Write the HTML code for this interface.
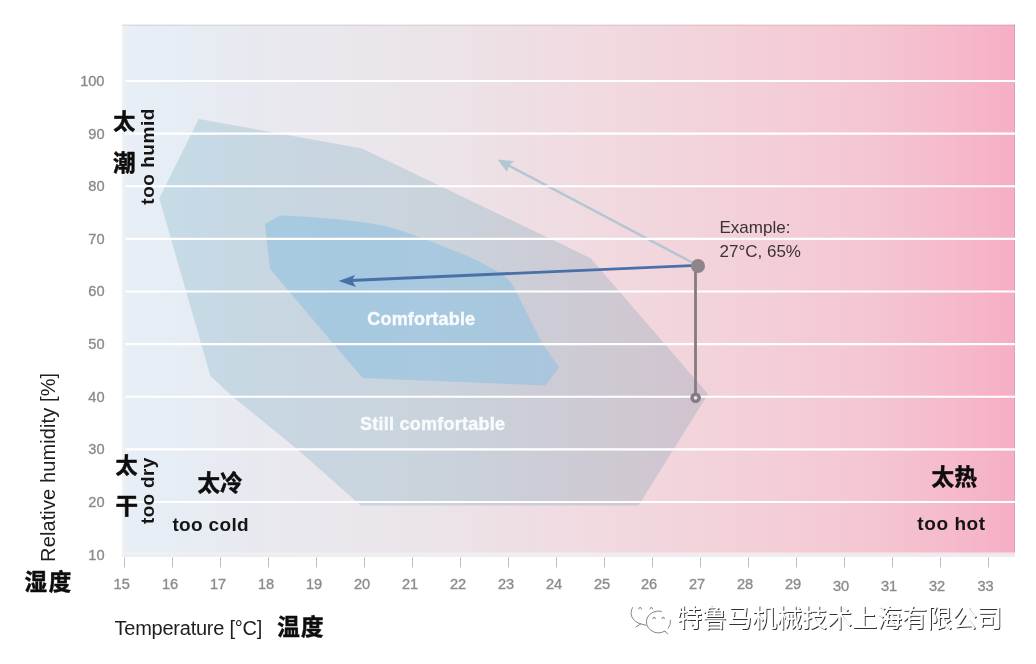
<!DOCTYPE html>
<html lang="zh">
<head>
<meta charset="utf-8">
<title>Comfort chart</title>
<style>
html,body{margin:0;padding:0;background:#fff;}
body{width:1036px;height:664px;overflow:hidden;position:relative;}
svg{position:absolute;left:0;top:0;display:block;}
text{font-family:"Liberation Sans","Noto Sans CJK SC",sans-serif;}
.ax{font-size:14.6px;fill:#8b8b8b;stroke:#8b8b8b;stroke-width:0.35px;}
.cn{font-family:"Liberation Sans","Noto Sans CJK SC",sans-serif;font-weight:700;fill:#0d0d0d;stroke:#0d0d0d;stroke-width:0.5px;stroke-linejoin:round;}
.en{font-family:"Liberation Sans",sans-serif;font-weight:700;fill:#151515;font-size:19px;}
.lbl{font-size:20px;fill:#1e1e1e;}
.zone{font-weight:700;fill:#f7fbfd;font-size:18px;stroke:#f7fbfd;stroke-width:0.45px;}
.ex{font-size:17px;fill:#3a3236;}
.wm{font-family:"Liberation Sans","Noto Sans CJK SC",sans-serif;font-size:25px;fill:#fff;}
</style>
</head>
<body>
<svg width="1036" height="664" viewBox="0 0 1036 664">
  <defs>
    <linearGradient id="bg" x1="0" y1="0" x2="1" y2="0">
      <stop offset="0" stop-color="#e7eef5"/>
      <stop offset="0.06" stop-color="#e6edf4"/>
      <stop offset="0.12" stop-color="#e8eaf1"/>
      <stop offset="0.35" stop-color="#ebe4e9"/>
      <stop offset="0.55" stop-color="#f1d9df"/>
      <stop offset="0.70" stop-color="#f3d0d8"/>
      <stop offset="0.82" stop-color="#f4c8d3"/>
      <stop offset="0.93" stop-color="#f5bacb"/>
      <stop offset="1" stop-color="#f6aec5"/>
    </linearGradient>
    <linearGradient id="lstrip" x1="0" y1="0" x2="1" y2="0">
      <stop offset="0" stop-color="#f2f4f2" stop-opacity="0.8"/>
      <stop offset="0.5" stop-color="#eef1f0" stop-opacity="0.5"/>
      <stop offset="1" stop-color="#eef1f0" stop-opacity="0"/>
    </linearGradient>
    <linearGradient id="band" x1="0" y1="0" x2="0" y2="1">
      <stop offset="0" stop-color="#f4f2f4" stop-opacity="0.3"/>
      <stop offset="0.35" stop-color="#f2f0f2" stop-opacity="0.85"/>
      <stop offset="1" stop-color="#ececee" stop-opacity="1"/>
    </linearGradient>
    <filter id="wms" x="-5%" y="-20%" width="110%" height="140%">
      <feDropShadow dx="1" dy="1" stdDeviation="0.4" flood-color="#303030" flood-opacity="1"/>
    </filter>
  </defs>

  <!-- plot background -->
  <rect x="122" y="24.7" width="893" height="532.3" fill="url(#bg)"/>
  <rect x="122" y="24.7" width="6" height="532.3" fill="url(#lstrip)"/>
  <rect x="122" y="24.7" width="893" height="1" fill="#8a7480" fill-opacity="0.22"/>
  <rect x="1014" y="24.7" width="1" height="527.3" fill="#8a7480" fill-opacity="0.25"/>
  <rect x="122" y="552" width="893" height="5" fill="url(#band)"/>

  <!-- still comfortable zone -->
  <polygon points="198.7,119 362,148.4 590.4,258 708,394 638.5,505.5 360.8,505.5 297.6,449.4 233,397 210.4,376 159.3,198.2" fill="#dbecf1" style="mix-blend-mode:multiply"/>
  <!-- comfortable zone -->
  <path d="M265,224 L280,215.6 C300,216 330,218.5 350,220.8 C362,222 374,224 385,226 C397,229 409,233 420,237.4 C432,241.5 443,246 454,250.4 C466,255 478,261 489,267 C495,270 501,273.5 506,277.3 C510,280.5 513,285 515,289.5 L542.4,344 L559,367 L545.6,385.5 L362.6,378 L270,269 Z" fill="#95c3e0" fill-opacity="0.65"/>

  <line x1="697" y1="265" x2="506" y2="164" stroke="#b2c7d2" stroke-width="2.5"/>
  <polygon points="497.5,159.5 514,161 509,165.5 507,172" fill="#b2c7d2"/>
  <!-- grid lines -->
  <g stroke="#ffffff" stroke-width="2.2">
    <line x1="125.5" y1="81.00" x2="1015" y2="81.00"/>
    <line x1="125.5" y1="133.62" x2="1015" y2="133.62"/>
    <line x1="125.5" y1="186.25" x2="1015" y2="186.25"/>
    <line x1="125.5" y1="238.88" x2="1015" y2="238.88"/>
    <line x1="125.5" y1="291.50" x2="1015" y2="291.50"/>
    <line x1="125.5" y1="344.12" x2="1015" y2="344.12"/>
    <line x1="125.5" y1="396.75" x2="1015" y2="396.75"/>
    <line x1="125.5" y1="449.38" x2="1015" y2="449.38"/>
    <line x1="125.5" y1="502.00" x2="1015" y2="502.00"/>
  </g>

  <!-- x ticks -->
  <g stroke="#bdbdbd" stroke-width="1">
    <line x1="124.5" y1="557.5" x2="124.5" y2="567.5"/><line x1="172.5" y1="557.5" x2="172.5" y2="567.5"/>
    <line x1="220.5" y1="557.5" x2="220.5" y2="567.5"/><line x1="268.5" y1="557.5" x2="268.5" y2="567.5"/>
    <line x1="316.5" y1="557.5" x2="316.5" y2="567.5"/><line x1="364.5" y1="557.5" x2="364.5" y2="567.5"/>
    <line x1="412.5" y1="557.5" x2="412.5" y2="567.5"/><line x1="460.5" y1="557.5" x2="460.5" y2="567.5"/>
    <line x1="508.5" y1="557.5" x2="508.5" y2="567.5"/><line x1="556.5" y1="557.5" x2="556.5" y2="567.5"/>
    <line x1="604.5" y1="557.5" x2="604.5" y2="567.5"/><line x1="652.5" y1="557.5" x2="652.5" y2="567.5"/>
    <line x1="700.5" y1="557.5" x2="700.5" y2="567.5"/><line x1="748.5" y1="557.5" x2="748.5" y2="567.5"/>
    <line x1="796.5" y1="557.5" x2="796.5" y2="567.5"/><line x1="844.5" y1="557.5" x2="844.5" y2="567.5"/>
    <line x1="892.5" y1="557.5" x2="892.5" y2="567.5"/><line x1="940.5" y1="557.5" x2="940.5" y2="567.5"/>
    <line x1="988.5" y1="557.5" x2="988.5" y2="567.5"/>
  </g>

  <!-- arrows -->
  <line x1="697" y1="265.3" x2="350" y2="280.5" stroke="#4970a8" stroke-width="2.8"/>
  <polygon points="338.5,281 355,275 352,280.5 356,287" fill="#4970a8"/>

  <!-- example marker -->
  <line x1="695.5" y1="266" x2="695.5" y2="394" stroke="#857b83" stroke-width="2.8"/>
  <circle cx="695.6" cy="397.8" r="3.6" fill="#e9e2e8" stroke="#857b83" stroke-width="3.4"/>
  <circle cx="698" cy="266" r="7" fill="#8e858a"/>

  <!-- y axis numbers -->
  <g class="ax" text-anchor="end">
    <text x="104.5" y="86.0">100</text>
    <text x="104.5" y="138.5">90</text>
    <text x="104.5" y="191.0">80</text>
    <text x="104.5" y="243.5">70</text>
    <text x="104.5" y="296.0">60</text>
    <text x="104.5" y="349.0">50</text>
    <text x="104.5" y="401.5">40</text>
    <text x="104.5" y="454.0">30</text>
    <text x="104.5" y="506.5">20</text>
    <text x="104.5" y="559.5">10</text>
  </g>

  <!-- x axis numbers -->
  <g class="ax" text-anchor="middle">
    <text x="121.7" y="589.0">15</text><text x="170" y="589.0">16</text>
    <text x="218" y="589.0">17</text><text x="266" y="589.0">18</text>
    <text x="314" y="589.0">19</text><text x="362" y="589.0">20</text>
    <text x="410" y="589.0">21</text><text x="458" y="589.0">22</text>
    <text x="506" y="589.0">23</text><text x="554" y="589.0">24</text>
    <text x="602" y="589.0">25</text><text x="649" y="589.0">26</text>
    <text x="697" y="589.0">27</text><text x="745" y="589.0">28</text>
    <text x="793" y="589.0">29</text><text x="841" y="591.0">30</text>
    <text x="889" y="591.0">31</text><text x="937" y="591.0">32</text>
    <text x="985.5" y="591.0">33</text>
  </g>

  <!-- axis titles -->
  <text class="lbl" transform="translate(55.2,561.9) rotate(-90)" textLength="189" lengthAdjust="spacing">Relative humidity [%]</text>
  <text class="lbl" x="114.6" y="634.8" textLength="147.6" lengthAdjust="spacing">Temperature [°C]</text>
  <text class="cn" x="24.6" y="590.4" font-size="22.5" textLength="46.6" lengthAdjust="spacing">湿度</text>
  <text class="cn" x="277.3" y="635.4" font-size="22.5" textLength="46.2" lengthAdjust="spacing">温度</text>

  <!-- zone labels -->
  <text class="zone" x="367.3" y="324.6" textLength="107.8" lengthAdjust="spacing">Comfortable</text>
  <text class="zone" x="360" y="430" textLength="145" lengthAdjust="spacing">Still comfortable</text>

  <!-- corner labels -->
  <text class="cn" x="113.3" y="129.2" font-size="22">太</text>
  <text class="cn" x="113.1" y="170.5" font-size="22.5">潮</text>
  <text class="en" transform="translate(154.2,204.7) rotate(-90)" textLength="96" lengthAdjust="spacing">too humid</text>

  <text class="cn" x="115.6" y="473.2" font-size="22">太</text>
  <text class="cn" x="115.5" y="514" font-size="22.5">干</text>
  <text class="en" transform="translate(153.9,524) rotate(-90)" textLength="66.3" lengthAdjust="spacing">too dry</text>

  <text class="cn" x="197.6" y="490.8" font-size="22.5">太冷</text>
  <text class="en" x="172.4" y="530.6" textLength="76.2" lengthAdjust="spacing">too cold</text>

  <text class="cn" x="931.4" y="484.8" font-size="22.5" textLength="45.6" lengthAdjust="spacing">太热</text>
  <text class="en" x="917.3" y="530.4" textLength="67.8" lengthAdjust="spacing">too hot</text>

  <!-- example text -->
  <text class="ex" x="719.5" y="232.7">Example:</text>
  <text class="ex" x="719.5" y="257.1">27°C, 65%</text>

  <!-- watermark -->
  <g fill="none" stroke="#5f5f5f" stroke-width="0.85" stroke-linecap="round" stroke-linejoin="round" opacity="0.9">
    <path d="M632.6,607.6 A14.3,11.5 0 0 0 640.8,623.9 L636,627 M640.8,623.9 L645.9,625.3"/>
    <path d="M661.5,611.3 A12.1,10.8 0 0 0 647.2,618 A12.1,10.8 0 0 0 665,631 L667.6,633.9 M668.2,628.2 A12.1,10.8 0 0 0 670.5,620.2"/>
    <path d="M638.8,608.9 A1.3,1.5 0 0 1 641.4,608.9 M650,608.9 A1.3,1.5 0 0 1 652.6,608.9"/>
    <path d="M653,618.6 A1.2,1.4 0 0 1 655.4,618.6 M662,618.6 A1.2,1.4 0 0 1 664.4,618.6"/>
  </g>
  <g filter="url(#wms)">
    <text class="wm" x="677" y="626.6">特鲁马机械技术上海有限公司</text>
  </g>
</svg>
</body>
</html>
